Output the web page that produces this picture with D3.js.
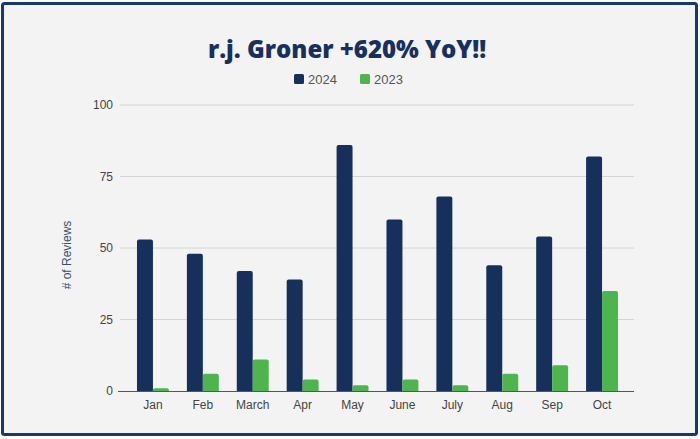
<!DOCTYPE html>
<html><head><meta charset="utf-8">
<script src="https://cdn.jsdelivr.net/npm/d3@7"></script>
<style>html,body{margin:0;padding:0;background:#fff;}svg{display:block;}</style>
</head><body>
<svg id="c" width="700" height="439"></svg>
<script>
const months = ["Jan","Feb","March","Apr","May","June","July","Aug","Sep","Oct"];
const series = ["2024","2023"];
const values2024 = [53,48,42,39,86,60,68,44,54,82];
const values2023 = [1,6,11,4,2,4,2,6,9,35];
const yTicks = [0,25,50,75,100];
const colors = ["#17305b","#4db44f"];
const title = "r.j. Groner +620% YoY!!";
const yLabel = "# of Reviews";

const svg = d3.select("#c");
svg.append("rect").attr("x",2.5).attr("y",3.5).attr("width",694).attr("height",431)
  .attr("rx",2).attr("fill","#f3f3f3").attr("stroke","#173a6e").attr("stroke-width",3);

const y = d3.scaleLinear().domain([0,100]).range([391,105]);
const x0 = d3.scaleBand().domain(months).range([128,627]).paddingInner(0.36).paddingOuter(0.18);
const x1 = d3.scaleBand().domain(series).range([0,x0.bandwidth()]);

// gridlines
const gx0 = 120, gx1 = 634;
svg.append("g").selectAll("line").data(yTicks.filter(t=>t>0)).join("line")
  .attr("x1",gx0).attr("x2",gx1).attr("y1",d=>y(d)).attr("y2",d=>y(d))
  .attr("stroke","#d4d4d4").attr("stroke-width",1);

svg.append("g").selectAll("text").data(yTicks).join("text")
  .attr("x",113).attr("y",d=>y(d)+4).attr("text-anchor","end")
  .attr("font-family","Liberation Sans, Arial, sans-serif").attr("font-size",12).attr("fill","#444")
  .text(d=>d);

const data = months.map((m,i)=>({m, v:[values2024[i],values2023[i]]}));
const r = 2;
function barPath(xL,w,yT,yB){
  const rr = Math.min(r, (yB-yT));
  return `M${xL},${yB}V${yT+rr}Q${xL},${yT} ${xL+rr},${yT}H${xL+w-rr}Q${xL+w},${yT} ${xL+w},${yT+rr}V${yB}Z`;
}
const g = svg.append("g");
data.forEach(d=>{
  series.forEach((s,si)=>{
    const xL = x0(d.m)+x1(s);
    g.append("path").attr("d",barPath(xL,x1.bandwidth(),y(d.v[si]),y(0))).attr("fill",colors[si]);
  });
});

// baseline
svg.append("line").attr("x1",gx0-2).attr("x2",gx1).attr("y1",y(0)+0.5).attr("y2",y(0)+0.5)
  .attr("stroke","#555").attr("stroke-width",1);

// x labels
svg.append("g").selectAll("text").data(months).join("text")
  .attr("x",d=>x0(d)+x0.bandwidth()/2).attr("y",409).attr("text-anchor","middle")
  .attr("font-family","Liberation Sans, Arial, sans-serif").attr("font-size",12).attr("fill","#444")
  .text(d=>d);

// y label
svg.append("text").attr("transform","translate(71,255) rotate(-90)").attr("text-anchor","middle")
  .attr("font-family","Liberation Sans, Arial, sans-serif").attr("font-size",12).attr("fill","#3b4f6e")
  .text(yLabel);

// title
svg.append("text").attr("x",347).attr("y",58).attr("text-anchor","middle")
  .attr("font-family","Open Sans, sans-serif").attr("font-weight",800).attr("font-size",24)
  .attr("fill","#173060").text(title);

// legend
const legX = [294,360];
series.forEach((s,i)=>{
  svg.append("rect").attr("x",legX[i]).attr("y",74).attr("width",10).attr("height",10).attr("rx",1.5).attr("fill",colors[i]);
  svg.append("text").attr("x",legX[i]+14).attr("y",83.5)
    .attr("font-family","Liberation Sans, Arial, sans-serif").attr("font-size",13).attr("fill","#555").text(s);
});
</script>
</body></html>
